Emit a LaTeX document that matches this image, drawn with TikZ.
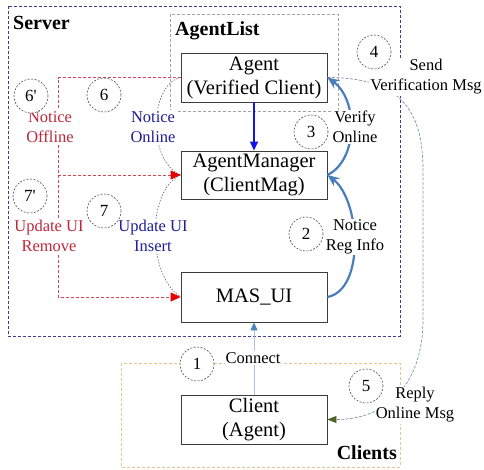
\documentclass[tikz,border=0pt]{standalone}
\usepackage{fontspec}
\setmainfont{Liberation Serif}
\usetikzlibrary{arrows.meta}
\definecolor{srvc}{RGB}{60,60,140}
\definecolor{listc}{RGB}{165,165,165}
\definecolor{clic}{RGB}{225,200,140}
\definecolor{redl}{RGB}{210,70,85}
\definecolor{redt}{RGB}{190,40,60}
\definecolor{redh}{RGB}{230,0,0}
\definecolor{bluet}{RGB}{30,30,150}
\definecolor{thickb}{RGB}{74,126,187}
\definecolor{thinc}{RGB}{130,145,170}
\definecolor{conl}{RGB}{170,195,225}
\definecolor{conh}{RGB}{79,129,189}
\definecolor{olive}{RGB}{79,98,40}
\definecolor{boxc}{RGB}{60,60,60}
\begin{document}
\begin{tikzpicture}[x=1pt,y=-1pt,
  frame/.style={dash pattern=on 3pt off 2pt, line width=0.8pt},
  mainbox/.style={draw=boxc, line width=0.8pt, fill=white, minimum width=146pt, minimum height=49pt, inner sep=0pt, align=center, font=\fontsize{20.5}{24}\selectfont},
  lab/.style={fill=white, inner sep=1pt, align=center, font=\fontsize{16.5}{20}\selectfont},
  numc/.style={circle, draw=black!70, dash pattern=on 2pt off 1.5pt, line width=0.6pt, fill=white, minimum size=34pt, inner sep=0pt, font=\fontsize{17}{20}\selectfont},
  title/.style={inner sep=0pt, font=\fontsize{20}{24}\selectfont\bfseries},
  thick curve/.style={draw=thickb, line width=2.2pt, -{Stealth[length=12pt,width=10pt]}},
  reddash/.style={draw=redl, dash pattern=on 3pt off 2pt, line width=0.8pt},
  redtip/.style={-{Triangle[length=10pt,width=9pt,color=redh]}},
  graydot/.style={draw=black!60, dash pattern=on 1.5pt off 1.5pt, line width=0.6pt}
]
\useasboundingbox (0,0) rectangle (484,469);

% frames
\draw[frame, draw=srvc] (8,6) rectangle (400,336);
\draw[frame, draw=listc] (170,14) rectangle (338,111);
\draw[frame, draw=clic] (121,363) rectangle (400,467);

\node[title, anchor=west] (tsrv) at (13,23) {Server};
\node[title, anchor=west] (tlist) at (175,31) {AgentList};
\node[title, anchor=east] (tcli) at (397,453) {Clients};

% main boxes
\node[mainbox] (agent) at (254,77.5) {Agent\\(Verified Client)};
\node[mainbox, minimum height=48pt] (am) at (254,175) {AgentManager\\(ClientMag)};
\node[mainbox, minimum height=50pt] (mas) at (254,297) {MAS\_UI};
\node[mainbox] (client) at (254,419.5) {Client\\(Agent)};

% helper coordinates
\coordinate (rt) at (58,77.5);
\coordinate (rm) at (58,175);
\coordinate (rb) at (58,297);
\coordinate (c4a) at (423,170);
\coordinate (c4b) at (423,320);

% gray dotted curves 6 and 7
\draw[graydot] (agent.west) .. controls +(-31,7) and +(-34,-15) .. (am.west);
\draw[graydot] (am.west) .. controls +(-34,15) and +(-34,-22) .. (mas.west);

% red dashed lines
\draw[reddash, redtip] (agent.west) -- (rt) -- (rb) -- (mas.west);
\draw[reddash, redtip] (rm) -- (am.west);

% blue straight arrow
\draw[draw={rgb,255:red,20;green,20;blue,230}, line width=1.2pt, -{Triangle[length=9pt,width=8pt]}] (agent.south) -- (am.north);

% connect arrow
\draw[draw=conl, line width=1pt, -{Triangle[length=8pt,width=7pt,color=conh]}] (client.north) -- (mas.south);

% thin long curve (4/5)
\draw[draw=thinc, dash pattern=on 3pt off 1.5pt, line width=0.7pt, -{Triangle[length=9pt,width=7pt,color=olive]}]
  (agent.east) .. controls +(73,0) and +(0,-60) .. (c4a) -- (c4b) .. controls +(0,60) and +(63,0) .. (client.east);

% thick blue curves
\draw[thick curve] (mas.east) .. controls +(38,-7) and +(33,25) .. (am.east);
\draw[thick curve] (am.east) .. controls +(31,-15) and +(31,22) .. (agent.east);

% labels
\node[lab, text=redt] (l6p) at (50,127) {Notice\\Offline};
\node[lab, text=bluet] (l6) at (153,127) {Notice\\Online};
\node[lab, text=redt] (l7p) at (49,236) {Update UI\\Remove};
\node[lab, text=bluet] (l7) at (153,236) {Update UI\\Insert};
\node[lab] (l3) at (355,127) {Verify\\Online};
\node[lab] (l4) at (426,77) {Send\\Verification Msg};
\node[lab] (l2) at (355,237) {Notice\\Reg Info};
\node[lab] (l1) at (253,358) {Connect};
\node[lab] (l5) at (415,405) {Reply\\Online Msg};

% number circles
\node[numc] (n6p) at (31,96) {6\textquotesingle};
\node[numc] (n6) at (104,95) {6};
\node[numc] (n7p) at (30,196) {7\textquotesingle};
\node[numc] (n7) at (104,211) {7};
\node[numc] (n3) at (311,132) {3};
\node[numc] (n4) at (374,52) {4};
\node[numc] (n2) at (306,234) {2};
\node[numc] (n1) at (197,364) {1};
\node[numc] (n5) at (366,386) {5};
\end{tikzpicture}
\end{document}
